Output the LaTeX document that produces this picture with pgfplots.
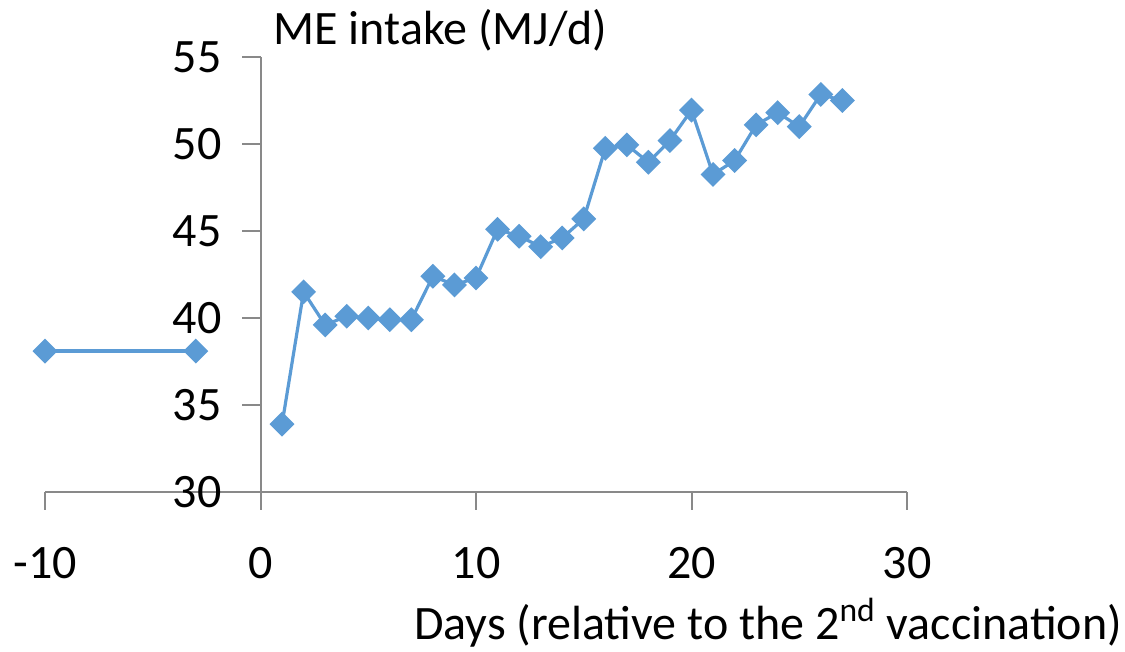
\documentclass[border=0pt]{standalone}
\usepackage{fontspec}
\setmainfont{Carlito}
\usepackage{pgfplots}
\pgfplotsset{compat=1.18}
\definecolor{lineblue}{HTML}{5B9BD5}
\definecolor{axgray}{HTML}{898989}
\newcommand{\bigf}{\fontsize{24}{29}\selectfont}
\begin{document}
\begin{tikzpicture}
\useasboundingbox (-22.5pt,-80pt) rectangle (540pt,246pt);
\begin{axis}[
    scale only axis,
    width=431pt, height=217.5pt,
    xmin=-10, xmax=30, ymin=30, ymax=55,
    axis x line*=bottom, axis y line*=middle,
    hide obscured x ticks=false, hide obscured y ticks=false,
    axis line style={axgray, line width=1pt},
    tick style={axgray, line width=1pt},
    tick align=outside, major tick length=9pt,
    xtick={-10,0,10,20,30}, xticklabels={-10,0,10,20,30},
    ytick={30,35,...,55}, yticklabels={30,35,40,45,50,55},
    tick label style={font=\bigf, black},
    xticklabel style={yshift=-15pt},
    yticklabel style={xshift=-7pt},
    xlabel={Days (relative to the 2\textsuperscript{nd} vaccination)},
    ylabel={ME intake (MJ/d)},
    every axis x label/.style={at={(rel axis cs:1,0)}, anchor=base east,
        xshift=111pt, yshift=-74pt, font=\bigf},
    every axis y label/.style={at={(axis cs:0,55)}, anchor=base west,
        xshift=3pt, yshift=6pt, font=\bigf},
    clip=false,
]
\addplot[color=lineblue, line width=1.6pt, mark=square*, mark size=3.6pt,
    mark options={rotate=45, fill=lineblue, draw=lineblue}]
    coordinates {(-10,38.1) (-3,38.1)};
\addplot[color=lineblue, line width=1.6pt, mark=square*, mark size=3.6pt,
    mark options={rotate=45, fill=lineblue, draw=lineblue}]
    coordinates {
    (1,33.9) (2,41.5) (3,39.6) (4,40.1) (5,40.0) (6,39.9) (7,39.9)
    (8,42.4) (9,41.9) (10,42.3) (11,45.1) (12,44.7) (13,44.1) (14,44.6)
    (15,45.7) (16,49.75) (17,49.95) (18,48.95) (19,50.2) (20,51.95)
    (21,48.25) (22,49.05) (23,51.1) (24,51.8) (25,51.0) (26,52.85) (27,52.5)};
\end{axis}
\end{tikzpicture}
\end{document}
